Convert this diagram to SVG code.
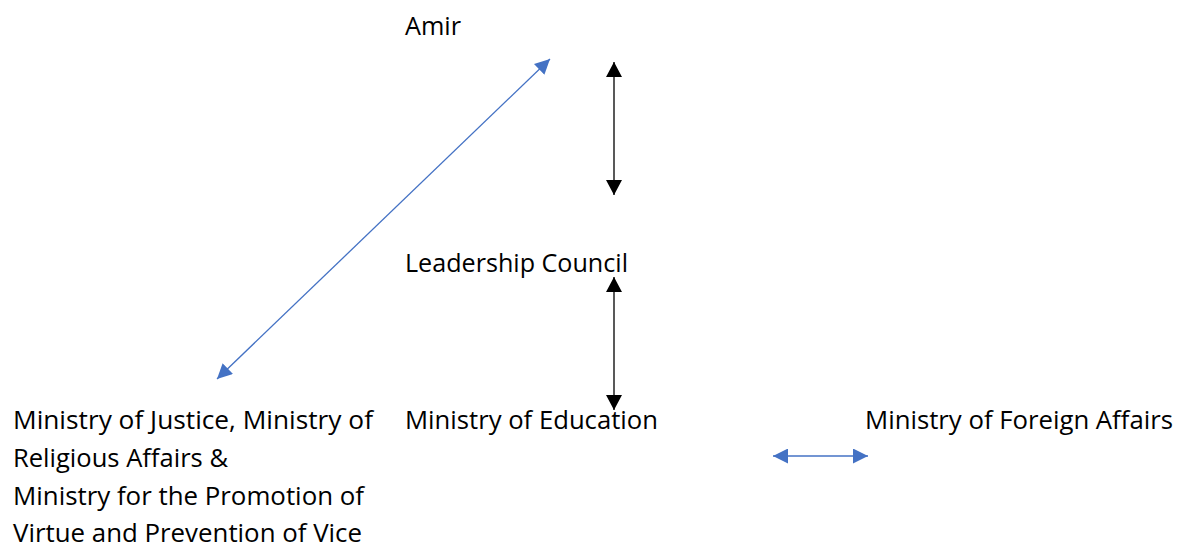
<svg xmlns="http://www.w3.org/2000/svg" width="1177" height="548" viewBox="0 0 1177 548">
<style>
.t{font-family:"Open Sans","Liberation Sans",sans-serif;font-size:25px;fill:#000}
.blk{stroke:#222;stroke-width:1.5;fill:none}
.blu{stroke:#4472C4;stroke-width:1.3;fill:none}
</style>
<defs>
<marker id="ab" viewBox="0 0 15 16" refX="15" refY="8" markerWidth="15" markerHeight="16" markerUnits="userSpaceOnUse" orient="auto-start-reverse"><path d="M0,0 L15,8 L0,16 z" fill="#000"/></marker>
<marker id="au" viewBox="0 0 15 15" refX="15" refY="7.5" markerWidth="15" markerHeight="15" markerUnits="userSpaceOnUse" orient="auto-start-reverse"><path d="M0,0 L15,7.5 L0,15 z" fill="#4472C4"/></marker>
</defs>
<rect width="1177" height="548" fill="#fff"/>
<g id="amir"><text class="t" x="405" y="35" textLength="56" lengthAdjust="spacingAndGlyphs">Amir</text></g>
<g id="leadership"><text class="t" x="405" y="272" textLength="223" lengthAdjust="spacingAndGlyphs">Leadership Council</text></g>
<g id="education"><text class="t" x="405" y="429" textLength="253" lengthAdjust="spacingAndGlyphs">Ministry of Education</text></g>
<g id="foreign"><text class="t" x="865" y="429" textLength="308" lengthAdjust="spacingAndGlyphs">Ministry of Foreign Affairs</text></g>
<g id="justice">
<text class="t" x="13" y="429" textLength="360" lengthAdjust="spacingAndGlyphs">Ministry of Justice, Ministry of</text>
<text class="t" x="13" y="467" textLength="215" lengthAdjust="spacingAndGlyphs">Religious Affairs &amp;</text>
<text class="t" x="13" y="505" textLength="351" lengthAdjust="spacingAndGlyphs">Ministry for the Promotion of</text>
<text class="t" x="13" y="542" textLength="349" lengthAdjust="spacingAndGlyphs">Virtue and Prevention of Vice</text>
</g>
<g id="connectors">
<line class="blu" x1="217" y1="379" x2="550" y2="59" marker-start="url(#au)" marker-end="url(#au)"/>
<line class="blk" x1="614" y1="62" x2="614" y2="195" marker-start="url(#ab)" marker-end="url(#ab)"/>
<line class="blk" x1="614" y1="277" x2="614" y2="410" marker-start="url(#ab)" marker-end="url(#ab)"/>
<line class="blu" x1="773" y1="456" x2="868" y2="456" marker-start="url(#au)" marker-end="url(#au)"/>
</g>
</svg>
